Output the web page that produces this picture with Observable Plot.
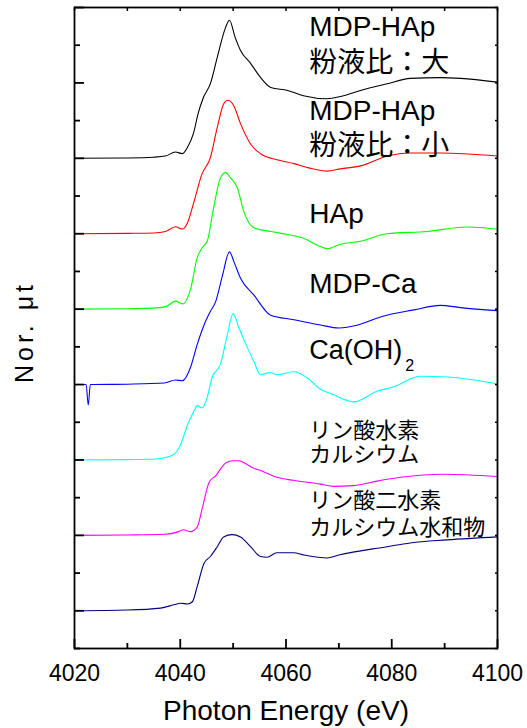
<!DOCTYPE html>
<html><head><meta charset="utf-8">
<script src="https://cdn.jsdelivr.net/npm/d3@7"></script>
<script src="https://cdn.jsdelivr.net/npm/@observablehq/plot@0.6"></script>
<style>
html,body{margin:0;padding:0;background:#fff;}
#chart{width:527px;height:728px;}
</style>
</head><body><div id="chart"></div>
<script>
// ---- data (normalized μt vs photon energy, eV) ----
const seriesNames = ["MDP-HAp 粉液比：大","MDP-HAp 粉液比：小","HAp","MDP-Ca","Ca(OH)2","リン酸水素カルシウム","リン酸二水素カルシウム水和物"];
const energyTicks = [4020,4040,4060,4080,4100];
const energyMinorTicks = [4030,4050,4070,4090];

const mdpHApLarge = [[4020,0],[4030,0.005],[4035,0.015],[4037.2,0.03],[4039.1,0.083],[4040.4,0.062],[4041.4,0.15],[4042.5,0.33],[4043.4,0.6],[4044.4,0.81],[4045.7,0.99],[4047.0,1.34],[4048.6,1.74],[4049.3,1.83],[4050.4,1.60],[4051.4,1.43],[4053.3,1.26],[4055.2,1.07],[4057.1,0.94],[4060.3,0.90],[4063.3,0.83],[4067.8,0.79],[4070.3,0.82],[4074.1,0.90],[4079.2,0.99],[4083.5,1.06],[4089.2,1.07],[4093,1.06],[4100,1.01]];
const mdpHApSmall = [[4020,0],[4030,0.005],[4035,0.01],[4037.2,0.03],[4039.1,0.093],[4040.4,0.062],[4041.4,0.15],[4042.5,0.40],[4044.1,0.79],[4045.7,1.01],[4047.0,1.41],[4048.2,1.72],[4049.0,1.77],[4050.1,1.70],[4051.4,1.46],[4053.3,1.19],[4055.2,1.06],[4058.3,0.98],[4061.5,0.93],[4064.5,0.87],[4067.8,0.83],[4070.3,0.86],[4074.1,0.90],[4079.2,1.03],[4083.5,1.07],[4089.2,1.07],[4100,1.03]];
const hap = [[4020,0],[4030,0.005],[4036,0.02],[4037.5,0.04],[4039.1,0.106],[4040.4,0.07],[4042.0,0.28],[4043.2,0.68],[4044.1,0.81],[4045.1,0.90],[4046.3,1.34],[4047.6,1.74],[4048.6,1.81],[4049.5,1.74],[4050.8,1.61],[4052.0,1.30],[4053.9,1.08],[4057.1,1.03],[4060.3,0.99],[4063.3,0.94],[4066.5,0.83],[4067.8,0.80],[4070.3,0.86],[4074.1,0.90],[4079.1,1.00],[4086.7,1.03],[4094.3,1.09],[4100,1.06]];
const mdpCa = [[4020,0],[4022.2,0],[4022.6,-0.27],[4023.0,0],[4030,0.005],[4037,0.02],[4039.1,0.06],[4040.4,0.05],[4041.9,0.22],[4043.2,0.53],[4044.5,0.79],[4045.7,0.97],[4046.7,1.10],[4048.0,1.45],[4049.3,1.76],[4050.2,1.62],[4051.4,1.41],[4053.9,1.19],[4057.1,0.92],[4061.5,0.86],[4066.5,0.79],[4070,0.75],[4073.6,0.79],[4078.0,0.90],[4084.2,0.99],[4089.2,1.05],[4093,1.02],[4100,0.98]];
const caOH2 = [[4020,0],[4030,0.005],[4034,0.01],[4036.3,0.02],[4038.8,0.075],[4040.1,0.21],[4041.4,0.47],[4042.6,0.65],[4043.2,0.72],[4044.1,0.69],[4045.1,0.83],[4046.0,1.09],[4047.6,1.27],[4048.9,1.66],[4050.0,1.94],[4051.1,1.75],[4052.7,1.49],[4053.9,1.31],[4055.2,1.13],[4057.1,1.16],[4058.3,1.13],[4061.5,1.17],[4064.0,1.09],[4066.5,0.94],[4068.8,0.87],[4072.8,0.77],[4077.2,0.91],[4080.4,0.97],[4085.4,1.11],[4090.5,1.10],[4100,1.01]];
const cahpo4 = [[4020,0],[4030,0.005],[4037.2,0.015],[4039.7,0.05],[4040.6,0.075],[4041.9,0.05],[4043.2,0.11],[4044.2,0.37],[4045.5,0.71],[4046.7,0.79],[4048.6,0.96],[4050.0,0.99],[4051.1,0.99],[4052.4,0.95],[4053.6,0.90],[4055.2,0.86],[4058.3,0.77],[4061.4,0.73],[4066.5,0.68],[4069,0.65],[4072.8,0.66],[4077.2,0.72],[4081.7,0.77],[4089.8,0.81],[4100,0.78]];
const cah2po4 = [[4020,0],[4030,0.01],[4036.3,0.036],[4038.8,0.08],[4040.1,0.10],[4041.4,0.09],[4042.3,0.12],[4043.2,0.32],[4044.5,0.63],[4045.7,0.72],[4047.0,0.85],[4048.2,0.98],[4049.8,1.01],[4051.4,0.98],[4053.3,0.85],[4055.2,0.72],[4056.4,0.71],[4058.3,0.77],[4061.4,0.77],[4063.4,0.74],[4067.8,0.70],[4070.0,0.74],[4079.1,0.85],[4083.5,0.90],[4090.5,0.94],[4100,0.98]];

const labelLines = ["MDP-HAp","粉液比：大","MDP-HAp","粉液比：小","HAp","MDP-Ca","Ca(OH)","リン酸水素","カルシウム","リン酸二水素","カルシウム水和物"];
const labelSeries = [0,0,1,1,2,3,4,5,5,6,6];

// ---- build stacked table ----
const spectra = [mdpHApLarge, mdpHApSmall, hap, mdpCa, caOH2, cahpo4, cah2po4];
const nS = spectra.length;
const rows = spectra.flatMap((pts, i) => pts.map(([e, v]) => ({name: seriesNames[i], e, y: v + (nS - 1 - i)})));

// layout of the labels (offset above each curve's baseline, in curve units)
const labelLift = [1.74,1.26,1.63,1.16,1.26,1.33,1.46,1.39,1.07,1.46,1.10];
const labels = labelLines.map((t, k) => ({t, big: k < 7, y: (nS - 1 - labelSeries[k]) + labelLift[k]}));
const labelX = 4064.4;

const yMajor = d3.range(0, 9, 1);
const yMinor = d3.range(-0.5, 8, 1);
const yAll = d3.range(-0.5, 8.01, 0.5);

const chart = Plot.plot({
  width: 527,
  height: 728,
  marginLeft: 74,
  marginRight: 30,
  marginTop: 7,
  marginBottom: 80,
  style: {fontFamily: "'Liberation Sans', Arial, 'Noto Sans CJK JP', sans-serif", fontSize: "23px", background: "#fff", color: "#000"},
  x: {domain: [4020, 4100]},
  y: {domain: [-0.5, 8]},
  color: {domain: seriesNames, range: ["#000000","#ff0000","#00ff00","#0000ff","#00ffff","#ff00ff","#000080"]},
  marks: [
    Plot.line(rows, {x: "e", y: "y", z: "name", stroke: "name", curve: "monotone-x", strokeWidth: 1.1}),
    Plot.frame({stroke: "#000", strokeWidth: 1.8}),
    // bottom ticks (inward)
    Plot.axisX(energyTicks, {anchor: "bottom", tickSize: -9, fill: "none", strokeWidth: 1.8, label: null}),
    Plot.axisX(energyMinorTicks, {anchor: "bottom", tickSize: -5, fill: "none", strokeWidth: 1.8, label: null}),
    Plot.axisX(energyTicks, {anchor: "bottom", tickSize: 0, tickPadding: 16, fontSize: 23, tickFormat: d => String(d), label: null}),
    // top ticks
    Plot.axisX(d3.range(4020, 4101, 10), {anchor: "top", tickSize: -3, fill: "none", strokeWidth: 1.5, label: null}),
    // left ticks
    Plot.axisY(yMajor, {anchor: "left", tickSize: -10, fill: "none", strokeWidth: 1.8, label: null}),
    Plot.axisY(yMinor, {anchor: "left", tickSize: -6, fill: "none", strokeWidth: 1.8, label: null}),
    // right ticks
    Plot.axisY(yAll, {anchor: "right", tickSize: -3, fill: "none", strokeWidth: 1.5, label: null}),
    // curve labels
    Plot.text(labels.filter(d => d.big && d.t !== "Ca(OH)"), {x: labelX, y: "y", text: "t", textAnchor: "start", lineAnchor: "middle", fontSize: 28}),
    Plot.text(labels.filter(d => d.t === "Ca(OH)"), {x: labelX, y: "y", text: "t", textAnchor: "start", lineAnchor: "middle", fontSize: 27}),
    Plot.text(labels.filter(d => !d.big), {x: labelX, y: "y", text: "t", textAnchor: "start", lineAnchor: "middle", fontSize: 22}),
    Plot.text(["2"], {x: labelX, y: (nS - 1 - 4) + 1.25, text: d => d, dx: 96, textAnchor: "start", lineAnchor: "middle", fontSize: 16}),
    // axis titles
    Plot.text(["Photon Energy (eV)"], {frameAnchor: "bottom", text: d => d, dy: 63, lineAnchor: "middle", fontSize: 28}),
    Plot.text(["Nor. μt"], {frameAnchor: "left", text: d => d, dx: -50, dy: 4, rotate: -90, textAnchor: "middle", lineAnchor: "middle", fontSize: 25})
  ]
});
// widen the letter spacing of the y-axis title as in the original
d3.select(chart).selectAll("text").filter(function() { return this.textContent === "Nor. μt"; })
  .style("letter-spacing", "4px");
document.getElementById("chart").appendChild(chart);
</script>
</body></html>
